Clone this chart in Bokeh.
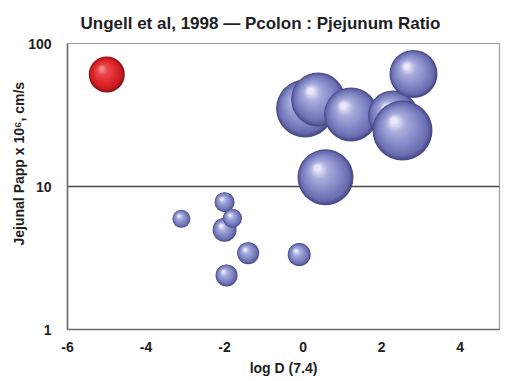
import math
from bokeh.plotting import figure
from bokeh.models import ColumnDataSource, FixedTicker, NumeralTickFormatter, Title
from bokeh.embed import file_html
from bokeh.resources import INLINE

# ---- data ----
log_d = [-5.00, 0.05, 0.38, 1.22, 2.29, 2.53, 2.81, 0.57,
         -3.10, -2.00, -2.00, -1.80, -1.40, -0.10, -1.95]
papp = [60.7, 35.1, 40.6, 31.9, 31.4, 24.6, 61.2, 11.6,
        5.94, 7.77, 4.98, 6.00, 3.42, 3.34, 2.39]
ratio = [1.8, 2.9, 2.7, 2.7, 2.5, 3.0, 2.4, 2.8,
         0.9, 1.0, 1.2, 0.95, 1.1, 1.15, 1.1]
kind = ["red"] + ["blue"] * 14
x_ticks = [-6, -4, -2, 0, 2, 4]
x_tick_labels = ["-6", "-4", "-2", "0", "2", "4"]
y_ticks = [1, 10, 100]

TITLE = "Ungell et al, 1998 \u2014 Pcolon : Pjejunum Ratio"
X_LABEL = "log D (7.4)"
Y_LABEL = "Jejunal Papp x 10\u2076, cm/s"

# ---- style ----
FONT = "Liberation Sans"
FW, FH = 432, 286
X_RANGE = (-6, 5)
Y_RANGE = (1, 100)
PX_PER_RATIO = 10.0
N_LAYERS = 18

stops = {
    "blue": [(0.0, "#4a4c8c"), (0.12, "#6a6dae"), (0.40, "#858ac8"),
             (0.75, "#a9acdd"), (1.0, "#e8e8fa")],
    "red": [(0.0, "#8a1010"), (0.10, "#c21a1e"), (0.40, "#e0282c"),
            (0.80, "#ea4a4c"), (1.0, "#f48a8a")],
}


def hex2rgb(h):
    h = h.lstrip("#")
    return tuple(int(h[i:i + 2], 16) for i in (0, 2, 4))


def grad(key, t):
    st = stops[key]
    for (t0, c0), (t1, c1) in zip(st[:-1], st[1:]):
        if t <= t1:
            f = (t - t0) / (t1 - t0)
            a, b = hex2rgb(c0), hex2rgb(c1)
            return "#%02x%02x%02x" % tuple(round(a[j] + (b[j] - a[j]) * f) for j in range(3))
    return st[-1][1]


ppx = FW / (X_RANGE[1] - X_RANGE[0])
ppd = FH / math.log10(Y_RANGE[1] / Y_RANGE[0])

lx, ly, ls, lc = [], [], [], []
for xd, yd, rt, k in zip(log_d, papp, ratio, kind):
    r = rt * PX_PER_RATIO
    for i in range(N_LAYERS):
        t = i / (N_LAYERS - 1)
        rr = r * (1 - 0.88 * t)
        dx = -0.28 * r * t
        dy = 0.32 * r * t
        lx.append(xd + dx / ppx)
        ly.append(yd * 10 ** (dy / ppd))
        ls.append(2 * rr)
        lc.append(grad(k, t))

src = ColumnDataSource(dict(x=lx, y=ly, size=ls, color=lc))

p = figure(frame_width=FW, frame_height=FH, x_range=X_RANGE, y_range=Y_RANGE,
           y_axis_type="log", output_backend="svg", toolbar_location=None,
           min_border_left=67, min_border_right=25, min_border_top=43,
           min_border_bottom=47, background_fill_color="white",
           border_fill_color="white")

p.scatter("x", "y", size="size", fill_color="color", line_color=None, source=src)

p.xgrid.visible = False
p.ygrid.ticker = FixedTicker(ticks=[10])
p.ygrid.grid_line_color = "#4a4a4a"
p.ygrid.grid_line_width = 1.5
p.outline_line_color = "#a0a0a0"
p.outline_line_width = 1.2

p.xaxis.ticker = FixedTicker(ticks=x_ticks)
p.xaxis.major_label_overrides = dict(zip(x_ticks, x_tick_labels))
p.yaxis.ticker = FixedTicker(ticks=y_ticks)
p.yaxis.formatter = NumeralTickFormatter(format="0")
for ax in (p.xaxis, p.yaxis):
    ax.major_tick_line_color = None
    ax.minor_tick_line_color = None
    ax.axis_line_color = "#6a6a6a"
    ax.axis_line_width = 1.5
    ax.major_label_text_font = FONT
    ax.major_label_text_font_style = "bold"
    ax.major_label_text_font_size = "14px"
    ax.major_label_text_color = "#1e1e1e"
p.xaxis.major_label_standoff = 6
p.yaxis.major_label_standoff = 10

p.xaxis.axis_label = X_LABEL
p.xaxis.axis_label_text_font = FONT
p.xaxis.axis_label_text_font_style = "bold"
p.xaxis.axis_label_text_font_size = "14px"
p.xaxis.axis_label_text_color = "#1e1e1e"
p.xaxis.axis_label_standoff = 5

p.add_layout(Title(text=TITLE, align="left", offset=13, standoff=22,
                   text_font=FONT, text_font_style="bold", text_font_size="17px",
                   text_color="#1e1e1e"), "above")
p.add_layout(Title(text=Y_LABEL, align="left", offset=84, standoff=-2,
                   text_font=FONT, text_font_style="bold", text_font_size="14px",
                   text_color="#1e1e1e"), "left")

open("out.html", "w").write(file_html(p, INLINE))
